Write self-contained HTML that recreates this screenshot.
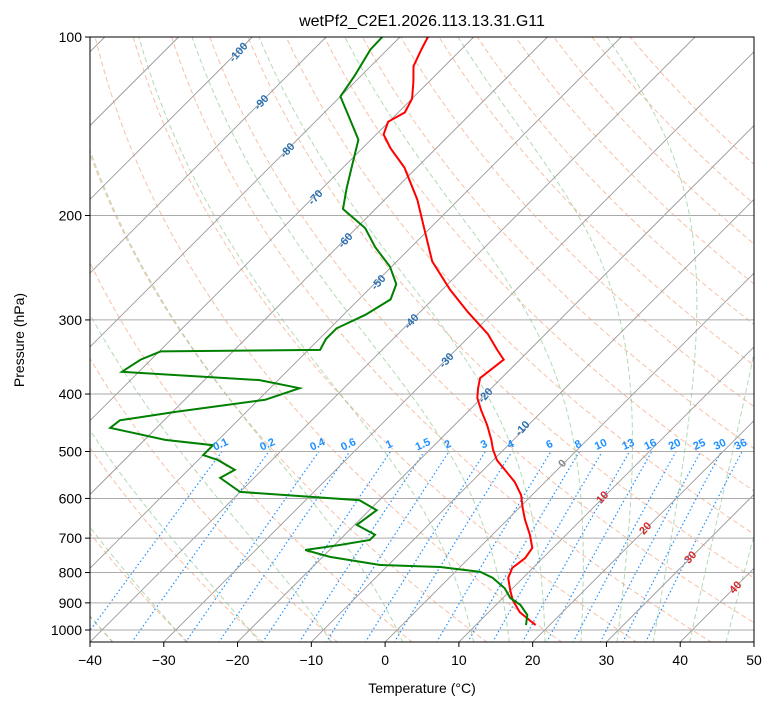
<!DOCTYPE html>
<html><head><meta charset="utf-8"><style>
html,body{margin:0;padding:0;background:#fff;}
svg text{font-family:"Liberation Sans","DejaVu Sans",sans-serif;}
</style></head><body>
<svg id="chart" xmlns="http://www.w3.org/2000/svg" width="775" height="708" viewBox="0 0 775 708">
<defs><clipPath id="clip"><rect x="90" y="37" width="664" height="605"/></clipPath></defs>
<rect width="775" height="708" fill="#fff"/>
<text x="422" y="26" font-size="16" text-anchor="middle">wetPf2_C2E1.2026.113.13.31.G11</text>
<g id="bg" clip-path="url(#clip)"></g>
<g id="series" clip-path="url(#clip)"></g>
<g id="labels"></g>
<rect x="90" y="37" width="664" height="605" fill="none" stroke="#000" stroke-width="1"/>
<g id="axes"></g>
<text x="422" y="693" font-size="14" text-anchor="middle">Temperature (°C)</text>
<text x="24" y="340" font-size="14" text-anchor="middle" transform="rotate(-90 24 340)">Pressure (hPa)</text>
</svg>
<script>
const tempP=[981,933,890,856,817,786,756,727,691,652,623,592,563,537,517,497,478,451,426,406,391,376,350,337,317,291,267,239,213,188,166,154,146,139,134,127,119,112,105,100];
const tempT=[18.1,14.2,11.6,9.9,8.0,7.2,7.6,7.2,5.1,2.4,0.5,-1.5,-4.1,-7.1,-9.5,-11.4,-13.0,-15.6,-18.4,-20.6,-21.8,-22.9,-22.2,-24.4,-27.8,-33.5,-38.9,-45.2,-50.2,-55.6,-61.7,-66.2,-69.0,-70.1,-69.1,-70.0,-72.1,-74.2,-75.4,-76.2];
const dewP=[981,943,907,883,850,817,798,783,777,753,733,719,705,691,665,628,604,585,554,537,517,507,488,478,456,443,429,409,391,379,367,350,339,337,323,310,294,277,261,244,226,210,195,180,167,149,136,126,116,105,100];
const dewT=[16.8,15.6,13.3,11.0,8.9,5.9,3.4,-2.7,-11.1,-19.0,-23.3,-19.3,-15.9,-15.9,-19.7,-19.0,-22.7,-40,-44.6,-43.7,-47.3,-50.0,-50.0,-57.2,-66.3,-66.0,-59.7,-49.1,-46.0,-52.5,-72.3,-71.4,-69.8,-48.4,-49.1,-49.1,-47.0,-45.7,-47.0,-50.2,-54.9,-58.8,-64.4,-66.7,-68.7,-71.7,-76.2,-80.0,-80.9,-82.3,-82.4];
const xTicks=[-40,-30,-20,-10,0,10,20,30,40,50];
const pTicks=[100,200,300,400,500,600,700,800,900,1000];
const mixRatios=[0.1,0.2,0.4,0.6,1,1.5,2,3,4,6,8,10,13,16,20,25,30,36];
const dryAdiabatsT0=[-100,-90,-80,-70,-60,-50,-40,-30,-20,-10,0,10,20,30,40,50,60,70,80,90,100,110,120,130,140,150,160];
const moistT0=[-50,-40,-30,-20,-10,0,10,15,20,25,30,35,40,45];
const adLabels=[[-100,238,52],[-90,261,102],[-80,287,150],[-70,315,197],[-60,345,240],[-50,378,282],[-40,411,321],[-30,446,360],[-20,485,395],[-10,522,428],[0,562,463],[10,602,497],[20,645,528],[30,690,557],[40,735,587]];

const NS="http://www.w3.org/2000/svg";
const X0=90,PX=664/90,YB=642;
function yP(p){return 630+593*Math.log10(p/1000);}
function xT(t,p){return X0+(t+40)*PX+(YB-yP(p));}
function mk(tag,attrs,parent){const e=document.createElementNS(NS,tag);for(const k in attrs)e.setAttribute(k,attrs[k]);parent.appendChild(e);return e;}
const bg=document.getElementById('bg'),ser=document.getElementById('series'),lab=document.getElementById('labels'),ax=document.getElementById('axes');
function pathFrom(ps,ts){return ps.map((p,i)=>(i?'L':'M')+xT(ts[i],p).toFixed(1)+','+yP(p).toFixed(1)).join('');}
const plevs=[];for(let p=1050;p>=100;p-=5)plevs.push(p);

dryAdiabatsT0.forEach(t0=>{const th=t0+273.15;const ts=plevs.map(p=>th*Math.pow(p/1000,0.2857)-273.15);
 const e=mk('path',{d:pathFrom(plevs,ts),fill:'none',stroke:'#f4a582',"stroke-width":1,"stroke-dasharray":"5,3",opacity:0.7},bg);
 });
function esat(t){return 6.112*Math.exp(17.67*t/(t+243.5));}
function moist(t0){const Rd=287,Cp=1005,Lv=2.5e6,eps=0.622;
 function d(p,T){const tc=T-273.15;const rs=eps*esat(tc)/(p-esat(tc));return (1/p)*(Rd*T+Lv*rs)/(Cp+Lv*Lv*rs*eps/(Rd*T*T));}
 let T=t0+273.15;const out=[];
 let Td=T;for(let q=1000;q<1050;q+=1){Td+=d(q,Td);}out.push([1050,Td-273.15]);
 for(let q=1000;q>=100;q-=1){if(q%5===0)out.push([q,T-273.15]);T-=d(q,T);}
 return out;}
moistT0.forEach(t0=>{const o=moist(t0);const e=mk('path',{d:pathFrom(o.map(a=>a[0]),o.map(a=>a[1])),fill:'none',stroke:'#7fbf7f',"stroke-width":1,"stroke-dasharray":"5,3",opacity:0.6},bg);
 });
function tdW(w,p){const e=w*p/(622+w);const l=Math.log(e/6.112);return 243.5*l/(17.67-l);}
mixRatios.forEach(w=>{const ps=plevs.filter(p=>p>=500);const e=mk('path',{d:pathFrom(ps,ps.map(p=>tdW(w,p))),fill:'none',stroke:'#1e90ff',"stroke-width":1.2,"stroke-dasharray":"1.5,2.5"},bg);
 
 const x=xT(tdW(w,500),500),y=yP(500)-4;
 const t=mk('text',{x:x,y:y,"font-size":11,"font-weight":"bold",fill:'#1e90ff',"text-anchor":"middle",transform:`rotate(-25 ${x} ${y})`},lab);t.textContent=String(w);
 });
for(let t=-130;t<=50;t+=10){const e=mk('line',{x1:xT(t,1050),y1:yP(1050),x2:xT(t,100),y2:yP(100),stroke:'#999',"stroke-width":0.9},bg);
 }
pTicks.forEach(p=>{const y=yP(p);const e=mk('line',{x1:90,x2:754,y1:y,y2:y,stroke:'#aaa',"stroke-width":1},bg);
 
 const tk=mk('line',{x1:85,x2:90,y1:y,y2:y,stroke:'#000'},ax);
 const t=mk('text',{x:82,y:y+5,"font-size":14,"text-anchor":"end"},ax);t.textContent=p;
 });
xTicks.forEach(v=>{const x=X0+(v+40)*PX;
 const tk=mk('line',{x1:x,x2:x,y1:642,y2:647,stroke:'#000'},ax);
 const t=mk('text',{x:x,y:665,"font-size":14,"text-anchor":"middle"},ax);t.textContent=(v<0?'\u2212'+(-v):v);
 });
adLabels.forEach(a=>{const col=a[0]<0?'#2b6fb0':(a[0]===0?'#888':'#d62728');
 const t=mk('text',{x:a[1],y:a[2]+4,"font-size":11,"font-weight":"bold",fill:col,"text-anchor":"middle",transform:`rotate(-48 ${a[1]} ${a[2]})`},lab);t.textContent=a[0];
 });
const tl=mk('path',{d:pathFrom(tempP,tempT),fill:'none',stroke:'#ff0000',"stroke-width":2},ser);

const dl=mk('path',{d:pathFrom(dewP,dewT),fill:'none',stroke:'#008000',"stroke-width":2},ser);

</script>
</body></html>
